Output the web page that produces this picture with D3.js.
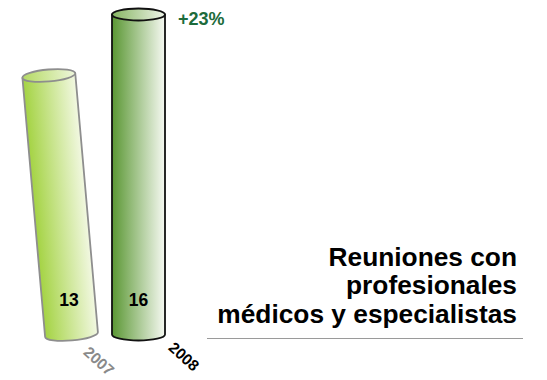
<!DOCTYPE html>
<html>
<head>
<meta charset="utf-8">
<script src="https://cdn.jsdelivr.net/npm/d3@7/dist/d3.min.js"></script>
<style>
  html, body { margin: 0; padding: 0; background: #fff; }
  svg { display: block; font-family: "Liberation Sans", Arial, Helvetica, sans-serif; }
</style>
</head>
<body>
<svg id="chart" width="547" height="380"></svg>
<script>
// Reuniones con profesionales médicos y especialistas, 2007 vs 2008
const years = ["2007", "2008"];
const values = [13, 16];
const titleLines = ["Reuniones con", "profesionales", "médicos y especialistas"];

// Per-cylinder look: gradient stops, outline, tilt and year label placement
const looks = [
  { body: ["#a4d343", "#f2f8e2"], cap: ["#b4da62", "#eef6dc"], stroke: "#8e8e8e",
    tilt: -5, yearColor: "#8a8a8a", yearDx: 11, yearDy: 19 },
  { body: ["#5a9733", "#f6f9f2"], cap: ["#86b562", "#eef4e8"], stroke: "#111",
    tilt: 0, yearColor: "#000", yearDx: 29, yearDy: 14.5 }
];

const svg = d3.select("#chart");

const x = d3.scalePoint().domain(years).range([71.5, 138.5]);
const y = d3.scaleLinear().domain([0, 16]).range([334.5, 14.5]);
const rx = 26.5, ry = 6;

// Gradients
const defs = svg.append("defs");
looks.forEach((lk, i) => {
  [["body", lk.body], ["cap", lk.cap]].forEach(([k, c]) => {
    const g = defs.append("linearGradient")
      .attr("id", `g-${k}-${i}`)
      .attr("x1", "0%").attr("x2", "100%").attr("y1", "0%").attr("y2", "0%");
    g.append("stop").attr("offset", "0%").attr("stop-color", c[0]);
    g.append("stop").attr("offset", "100%").attr("stop-color", c[1]);
  });
});

const data = years.map((yr, i) => ({ year: yr, value: values[i], look: looks[i], i }));

const cyl = svg.selectAll("g.cyl").data(data).join("g")
  .attr("class", "cyl")
  .attr("transform", d => `translate(${x(d.year)},${y(0)}) rotate(${d.look.tilt})`);

// Body: straight sides plus the front half of the bottom ellipse
cyl.append("path")
  .attr("d", d => {
    const h = y(0) - y(d.value);
    return `M${-rx},${-h} L${-rx},0 A${rx},${ry} 0 0 0 ${rx},0 L${rx},${-h} Z`;
  })
  .attr("fill", d => `url(#g-body-${d.i})`)
  .attr("stroke", d => d.look.stroke)
  .attr("stroke-width", 1.8)
  .attr("stroke-linejoin", "round");

// Top cap
cyl.append("ellipse")
  .attr("cx", 0)
  .attr("cy", d => -(y(0) - y(d.value)))
  .attr("rx", rx).attr("ry", ry)
  .attr("fill", d => `url(#g-cap-${d.i})`)
  .attr("stroke", d => d.look.stroke)
  .attr("stroke-width", 1.8);

// Value labels near the base, upright, following the cylinder axis
data.forEach(d => {
  const rise = y(0) - 305;
  const cx = x(d.year) - rise * Math.tan(-d.look.tilt * Math.PI / 180);
  svg.append("text")
    .attr("x", cx).attr("y", 305.5)
    .attr("text-anchor", "middle")
    .attr("font-size", 17.5).attr("font-weight", "bold")
    .attr("fill", "#000")
    .text(d.value);
});

// Year labels, slanted
svg.selectAll("text.year").data(data).join("text")
  .attr("class", "year")
  .attr("transform", d => `translate(${x(d.year) + d.look.yearDx},${y(0) + d.look.yearDy}) rotate(42)`)
  .attr("font-size", 15.5).attr("font-weight", "bold")
  .attr("fill", d => d.look.yearColor)
  .text(d => d.year);

// Growth label
const growth = Math.round((values[1] - values[0]) / values[0] * 100);
svg.append("text")
  .attr("x", 178).attr("y", 25)
  .attr("font-size", 18).attr("font-weight", "bold")
  .attr("fill", "#1d6b3b")
  .text(`+${growth}%`);

// Title block, right aligned, with rule underneath
svg.append("text")
  .attr("text-anchor", "end")
  .attr("font-size", 26.3).attr("font-weight", "bold")
  .attr("fill", "#000")
  .selectAll("tspan").data(titleLines).join("tspan")
  .attr("x", 517)
  .attr("y", (d, i) => 265.5 + i * 28.8)
  .text(d => d);

svg.append("line")
  .attr("x1", 207).attr("x2", 523)
  .attr("y1", 338.5).attr("y2", 338.5)
  .attr("stroke", "#9a9a9a").attr("stroke-width", 1.2);
</script>
</body>
</html>
